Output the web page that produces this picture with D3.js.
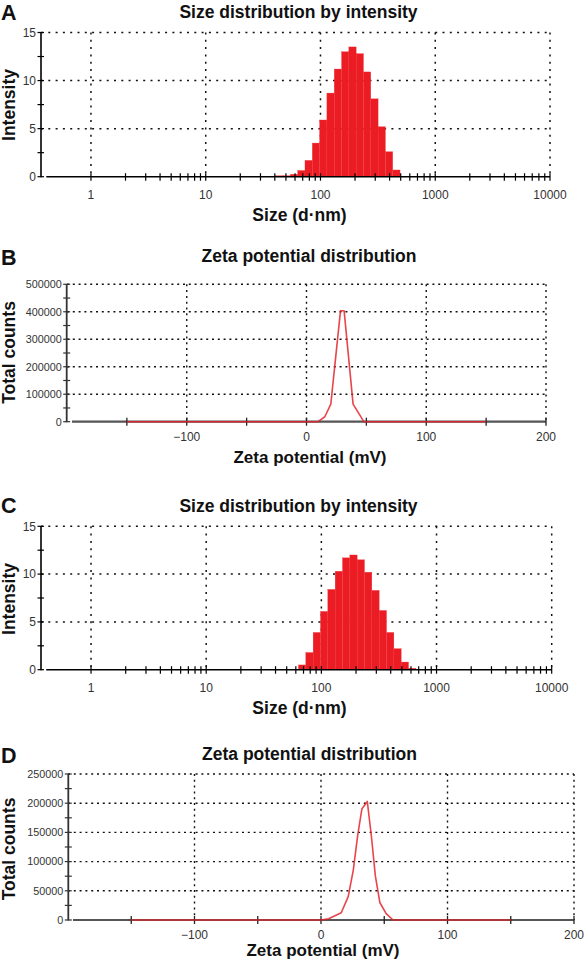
<!DOCTYPE html>
<html><head><meta charset="utf-8">
<script src="https://cdn.jsdelivr.net/npm/d3@7"></script>
<style>
html,body{margin:0;padding:0;background:#fff;}
text{font-family:"Liberation Sans",Arial,Helvetica,sans-serif;}
</style></head>
<body><svg id="c" width="585" height="965"></svg>
<script>
// ---------- DATA ----------
const sizeClasses = [37.84, 43.82, 50.75, 58.77, 68.06, 78.82, 91.28, 105.7, 122.4, 141.8, 164.2, 190.1, 220.2, 255.0, 295.3, 342.0, 396.1, 458.7, 531.2, 615.1];
const intensityA  = [0.05, 0.1, 0.1, 0.25, 0.65, 1.7, 3.5, 5.9, 8.7, 11.2, 13.0, 13.5, 12.8, 10.9, 8.1, 5.2, 2.6, 0.7, 0, 0];
const intensityC  = [0, 0, 0, 0, 0.5, 1.8, 3.9, 6.1, 8.4, 10.3, 11.7, 12.0, 11.5, 10.2, 8.3, 6.2, 3.9, 2.2, 0.8, 0.15];
const sizeTickLabels = [1, 10, 100, 1000, 10000];
const intensityTicks = [0, 5, 10, 15];

const zetaMvB     = [-150, 9.7, 15.3, 20.3, 28.4, 31.4, 38.9, 47.9, 150];
const zetaCountsB = [0, 0, 18000, 64000, 404000, 404000, 64000, 0, 0];
const zetaMvD     = [-150, 0, 6, 16, 21.5, 25.5, 29, 32.3, 36.6, 40, 43, 46.5, 51.5, 57, 150];
const zetaCountsD = [0, 0, 2000, 12500, 40000, 85000, 145000, 190000, 203000, 140000, 75000, 30000, 11000, 0, 0];
const zetaTickLabels = [-100, 0, 100, 200];
const countTicksB = [0, 100000, 200000, 300000, 400000, 500000];
const countTicksD = [0, 50000, 100000, 150000, 200000, 250000];

const svg = d3.select("#c");
svg.append("rect").attr("width",585).attr("height",965).attr("fill","#fff");

function boldText(x, y, s, size, anchor, rot) {
  const t = svg.append("text").attr("font-weight","bold").attr("font-size",size)
    .attr("fill","#111").attr("text-anchor",anchor||"middle").text(s);
  if (rot) t.attr("transform",`translate(${x},${y}) rotate(-90)`);
  else t.attr("x",x).attr("y",y);
  return t;
}

function sizePanel(cfg) {
  const x = d3.scaleLog().domain([0.4, 10000]).range([cfg.x0, cfg.x1]);
  const y = d3.scaleLinear().domain([0, 15]).range([cfg.y0, cfg.y1]);
  const g = svg.append("g");
  const dash = "2,5.3";
  intensityTicks.filter(v => v > 0).forEach(v => {
    g.append("line").attr("x1", cfg.ax).attr("x2", x(10000)).attr("y1", y(v)).attr("y2", y(v))
      .attr("stroke","#111").attr("stroke-width",1.5).attr("stroke-dasharray",dash);
  });
  sizeTickLabels.forEach(v => {
    g.append("line").attr("x1", x(v)).attr("x2", x(v)).attr("y1", y(15)).attr("y2", y(0))
      .attr("stroke","#111").attr("stroke-width",1.5).attr("stroke-dasharray",dash);
  });
  const r = Math.sqrt(sizeClasses[1] / sizeClasses[0]);
  g.selectAll("rect.bar").data(sizeClasses.map((c,i)=>({c, v: cfg.values[i]})).filter(d=>d.v>0))
    .join("rect").attr("class","bar")
    .attr("x", d => x(d.c / r)).attr("width", d => x(d.c * r) - x(d.c / r))
    .attr("y", d => y(d.v)).attr("height", d => y(0) - y(d.v))
    .attr("fill","#ec1c24").attr("stroke","#ef3a40").attr("stroke-width",0.3);
  g.append("line").attr("x1", x(0.4)+1).attr("x2", x(10000)).attr("y1", y(0)).attr("y2", y(0))
    .attr("stroke","#000").attr("stroke-width",1.6);
  const minor = [];
  [1,10,100,1000].forEach(b => { for (let k=1;k<10;k++) minor.push(b*k); });
  minor.push(10000);
  minor.forEach(v => {
    g.append("line").attr("x1", x(v)).attr("x2", x(v)).attr("y1", y(0)-3.5).attr("y2", y(0)+4)
      .attr("stroke","#000").attr("stroke-width",1.2);
  });
  sizeTickLabels.forEach(v => {
    g.append("text").attr("x", x(v)).attr("y", cfg.xlabY).attr("text-anchor","middle")
      .attr("font-size",12).attr("fill","#333").text(v);
  });
  g.append("line").attr("x1", cfg.ax).attr("x2", cfg.ax).attr("y1", y(15)).attr("y2", y(0)+0.5)
    .attr("stroke","#000").attr("stroke-width",1.6);
  d3.range(0, 15.01, 2.5).forEach(v => {
    g.append("line").attr("x1", cfg.ax-3.5).attr("x2", cfg.ax+3).attr("y1", y(v)).attr("y2", y(v))
      .attr("stroke","#000").attr("stroke-width",1.2);
  });
  intensityTicks.forEach(v => {
    g.append("text").attr("x", cfg.ax-5).attr("y", y(v)+4.2).attr("text-anchor","end")
      .attr("font-size",12).attr("fill","#333").text(v);
  });
  boldText(15, cfg.yTitleY, "Intensity", 17.5, "middle", true);
  boldText(299.5, cfg.xTitleY, "Size (d\u00b7nm)", 17.5);
  boldText(298.5, cfg.titleY, "Size distribution by intensity", 17.5);
  boldText(1, cfg.letterY, cfg.letter, 21.5, "start");
}

function zetaPanel(cfg) {
  const x = d3.scaleLinear().domain([-200, 200]).range([cfg.x0, cfg.x1]);
  const y = d3.scaleLinear().domain([0, cfg.ymax]).range([cfg.y0, cfg.y1]);
  const g = svg.append("g");
  const dash = "2,3.8";
  cfg.ticks.filter(v => v > 0).forEach(v => {
    g.append("line").attr("x1", x(-200)).attr("x2", x(200)).attr("y1", y(v)).attr("y2", y(v))
      .attr("stroke","#111").attr("stroke-width",1.4).attr("stroke-dasharray",dash);
  });
  zetaTickLabels.forEach(v => {
    g.append("line").attr("x1", x(v)).attr("x2", x(v)).attr("y1", y(cfg.ymax)).attr("y2", y(0))
      .attr("stroke","#111").attr("stroke-width",1.4).attr("stroke-dasharray",dash);
  });
  g.append("line").attr("x1", x(-200)+5).attr("x2", x(200)).attr("y1", y(0)).attr("y2", y(0))
    .attr("stroke","#555").attr("stroke-width",2.2);
  [-150,-100,-50,0,50,100,150,200].forEach(v => {
    g.append("line").attr("x1", x(v)).attr("x2", x(v)).attr("y1", y(0)-4).attr("y2", y(0)+4)
      .attr("stroke","#222").attr("stroke-width",1.3);
  });
  zetaTickLabels.forEach(v => {
    g.append("text").attr("x", x(v)).attr("y", cfg.xlabY).attr("text-anchor","middle")
      .attr("font-size",12).attr("fill","#333").text(d3.format("")(v).replace("-", "\u2212"));
  });
  const pts = cfg.mv.map((m,i)=>[m, cfg.counts[i]]);
  g.append("path").attr("d", d3.line().x(d=>x(d[0])).y(d=>y(d[1]))(pts))
    .attr("fill","none").attr("stroke","#e3242b").attr("stroke-width",1.6)
    .attr("stroke-opacity",0.85).attr("stroke-linejoin","round");
  g.append("line").attr("x1", cfg.ax).attr("x2", cfg.ax).attr("y1", y(cfg.ymax)).attr("y2", y(0)+0.5)
    .attr("stroke","#333").attr("stroke-width",1.8);
  d3.range(0, cfg.ymax + 1, cfg.minorStep).forEach(v => {
    g.append("line").attr("x1", cfg.ax-3.5).attr("x2", cfg.ax+3.5).attr("y1", y(v)).attr("y2", y(v))
      .attr("stroke","#333").attr("stroke-width",1.2);
  });
  cfg.ticks.forEach(v => {
    g.append("text").attr("x", cfg.ax-5).attr("y", y(v)+3.8).attr("text-anchor","end")
      .attr("font-size",10.8).attr("fill","#333").text(v);
  });
  boldText(15, cfg.yTitleY, "Total counts", 17.5, "middle", true);
  boldText(cfg.xTitleX, cfg.xTitleY, "Zeta potential (mV)", 17, "middle");
  boldText(cfg.titleX, cfg.titleY, "Zeta potential distribution", 17.5);
  boldText(1, cfg.letterY, cfg.letter, 21.5, "start");
}

sizePanel({letter:"A", values:intensityA, x0:45.3, x1:550, y0:176.7, y1:32.5, ax:41,
  xlabY:198.5, xTitleY:221, titleY:17.5, letterY:19.5, yTitleY:105});
zetaPanel({letter:"B", mv:zetaMvB, counts:zetaCountsB, ymax:500000, ticks:countTicksB, minorStep:50000,
  x0:67, x1:546, y0:421.7, y1:284.3, ax:66.7, xlabY:441, xTitleX:310, xTitleY:463,
  titleX:309, titleY:261.5, letterY:265, yTitleY:352.5});
sizePanel({letter:"C", values:intensityC, x0:45.2, x1:551.7, y0:669.7, y1:526.3, ax:41,
  xlabY:691.5, xTitleY:714, titleY:512.3, letterY:513.3, yTitleY:599});
zetaPanel({letter:"D", mv:zetaMvD, counts:zetaCountsD, ymax:250000, ticks:countTicksD, minorStep:25000,
  x0:68, x1:574, y0:920, y1:774, ax:68.3, xlabY:938.5, xTitleX:323, xTitleY:956,
  titleX:309.5, titleY:760, letterY:763, yTitleY:849});
</script></body></html>
